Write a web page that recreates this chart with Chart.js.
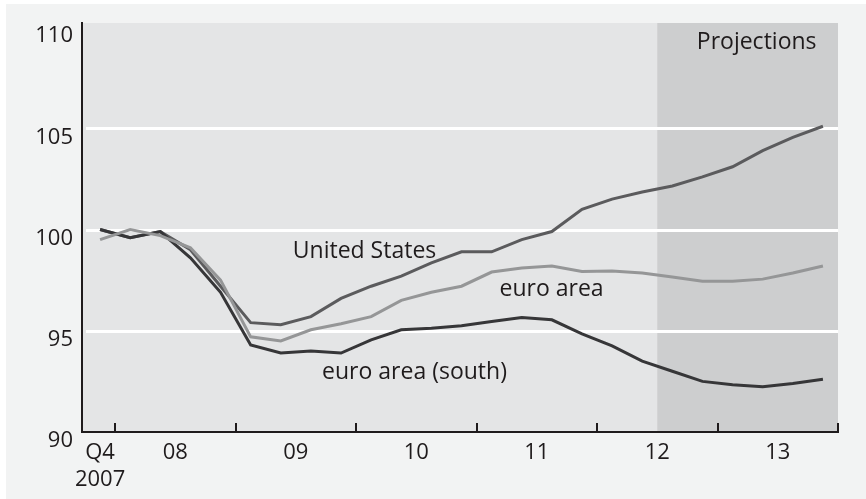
<!DOCTYPE html>
<html><head><meta charset="utf-8">
<script src="https://cdn.jsdelivr.net/npm/chart.js@4"></script>
<style>html,body{margin:0;padding:0;background:#fff;overflow:hidden}#wrap{width:866px;height:499px;position:relative}</style>
</head><body><div id="wrap"><canvas id="c" width="866" height="499"></canvas></div>
<script>
// ---- data ----
const quarters = ['2007Q4',
  '2008Q1','2008Q2','2008Q3','2008Q4',
  '2009Q1','2009Q2','2009Q3','2009Q4',
  '2010Q1','2010Q2','2010Q3','2010Q4',
  '2011Q1','2011Q2','2011Q3','2011Q4',
  '2012Q1','2012Q2','2012Q3','2012Q4',
  '2013Q1','2013Q2','2013Q3','2013Q4'];
const unitedStates = [100.0, 99.6, 99.9, 99.0, 97.2, 95.4, 95.3, 95.7, 96.6, 97.2, 97.7, 98.35, 98.9,
  98.9, 99.5, 99.9, 101.0, 101.5, 101.85, 102.15, 102.6, 103.1, 103.9, 104.55, 105.1];
const euroArea = [99.5, 100.0, 99.7, 99.1, 97.5, 94.7, 94.5, 95.05, 95.35, 95.7, 96.5, 96.9, 97.2,
  97.9, 98.1, 98.2, 97.93, 97.95, 97.85, 97.65, 97.45, 97.45, 97.55, 97.85, 98.2];
const euroAreaSouth = [100.0, 99.6, 99.9, 98.6, 96.9, 94.3, 93.9, 94.0, 93.9, 94.55, 95.05, 95.13, 95.25,
  95.46, 95.66, 95.54, 94.85, 94.25, 93.5, 93.0, 92.5, 92.33, 92.24, 92.4, 92.6];
const years = ['2007','2008','2009','2010','2011','2012','2013'];
const yearTickLabels = [['Q4','2007'],'08','09','10','11','12','13'];
const yTickValues = [90, 95, 100, 105, 110];
const gridValues = [95, 100, 105];
const projectionStart = '2012Q3';
const seriesNames = ['United States', 'euro area', 'euro area (south)'];
const projectionLabel = 'Projections';

// ---- derived positions (quarter indices) ----
const yearCenters = years.map(y => {
  const idx = quarters.map((q,i)=>q.startsWith(y)?i:-1).filter(i=>i>=0);
  return (idx[0] + idx[idx.length-1]) / 2;
});
const yearBoundaries = years.map(y => quarters.findIndex(q=>q.startsWith(y)) - 0.5).slice(1)
  .concat([quarters.length - 0.5]);
const projIndex = quarters.indexOf(projectionStart) - 0.5;

// ---- styling ----
const TXT = '#1f1b1c';
const FONT = "'Open Sans', sans-serif";
const colUS = '#5b5b5d', colEA = '#959697', colS = '#363638';

// annotation placement (quarter index, value) – layout only
const annotations = [
  {text: seriesNames[0], x: 8.78, y: 98.61},
  {text: seriesNames[1], x: 14.99, y: 96.70},
  {text: seriesNames[2], x: 10.44, y: 92.61},
  {text: projectionLabel, x: 21.8, y: 108.9}
];

const bgPlugin = {
  id: 'bg',
  beforeDraw(chart) {
    const {ctx, chartArea: a, scales: {x}} = chart;
    ctx.save();
    ctx.fillStyle = '#ffffff';
    ctx.fillRect(0, 0, chart.width, chart.height);
    ctx.fillStyle = '#f2f3f3';
    ctx.fillRect(6, 4, chart.width - 6, chart.height - 4);
    ctx.fillStyle = '#e4e5e6';
    ctx.fillRect(a.left, a.top, a.right - a.left, a.bottom - a.top);
    const px = x.getPixelForValue(projIndex);
    ctx.fillStyle = '#cdcecf';
    ctx.fillRect(px, a.top, a.right - px, a.bottom - a.top);
    ctx.restore();
  },
  beforeDatasetsDraw(chart) {
    const {ctx, chartArea: a, scales: {y}} = chart;
    ctx.save();
    ctx.strokeStyle = '#ffffff';
    ctx.lineWidth = 3;
    gridValues.forEach(v => {
      const py = Math.round(y.getPixelForValue(v)) + 0.5;
      ctx.beginPath();
      ctx.moveTo(a.left + 4, py);
      ctx.lineTo(a.right, py);
      ctx.stroke();
    });
    ctx.restore();
  },
  afterDatasetsDraw(chart) {
    const {ctx, chartArea: a, scales: {x, y}} = chart;
    ctx.save();
    ctx.strokeStyle = TXT;
    ctx.lineWidth = 2;
    yearBoundaries.forEach(b => {
      const px = Math.round(x.getPixelForValue(b));
      ctx.beginPath();
      ctx.moveTo(px, a.bottom);
      ctx.lineTo(px, a.bottom - 9);
      ctx.stroke();
    });
    ctx.fillStyle = TXT;
    ctx.font = "23px " + FONT;
    ctx.textAlign = 'center';
    ctx.textBaseline = 'alphabetic';
    annotations.forEach(an => {
      ctx.fillText(an.text, x.getPixelForValue(an.x), y.getPixelForValue(an.y));
    });
    ctx.restore();
  }
};

const mk = (label, arr, color) => ({
  label, data: arr.map((v,i)=>({x:i, y:v})),
  borderColor: color, backgroundColor: color, borderWidth: 3,
  pointRadius: 0, tension: 0, fill: false
});

new Chart(document.getElementById('c'), {
  type: 'line',
  data: { datasets: [
    mk(seriesNames[1], euroArea, colEA),
    mk(seriesNames[2], euroAreaSouth, colS),
    mk(seriesNames[0], unitedStates, colUS)
  ]},
  options: {
    responsive: false, animation: false, devicePixelRatio: 1,
    layout: { padding: { left: 0, right: 28, top: 23, bottom: 0 } },
    plugins: { legend: {display:false}, tooltip: {enabled:false} },
    scales: {
      x: {
        type: 'linear', min: -0.6, max: 24.5,
        afterBuildTicks: s => { s.ticks = yearCenters.map(v => ({value: v})); },
        afterFit: s => { s.height = 67; },
        grid: { display: false, drawTicks: false },
        border: { display: true, color: TXT, width: 2 },
        ticks: {
          autoSkip: false, maxRotation: 0, padding: 8, color: TXT,
          font: { family: FONT, size: 22, lineHeight: 1.2 },
          callback: v => { const k = yearCenters.indexOf(v); return k >= 0 ? yearTickLabels[k] : ''; }
        }
      },
      y: {
        type: 'linear', min: 90, max: 110.2,
        afterBuildTicks: s => { s.ticks = yTickValues.map(v => ({value: v})); },
        afterFit: s => { s.width = 82; },
        grid: { display: false, drawTicks: false },
        border: { display: true, color: TXT, width: 2 },
        ticks: {
          padding: 9, color: TXT, labelOffset: 9,
          font: { family: FONT, size: 22 },
          callback: v => String(v)
        }
      }
    }
  },
  plugins: [bgPlugin]
});
</script></body></html>
